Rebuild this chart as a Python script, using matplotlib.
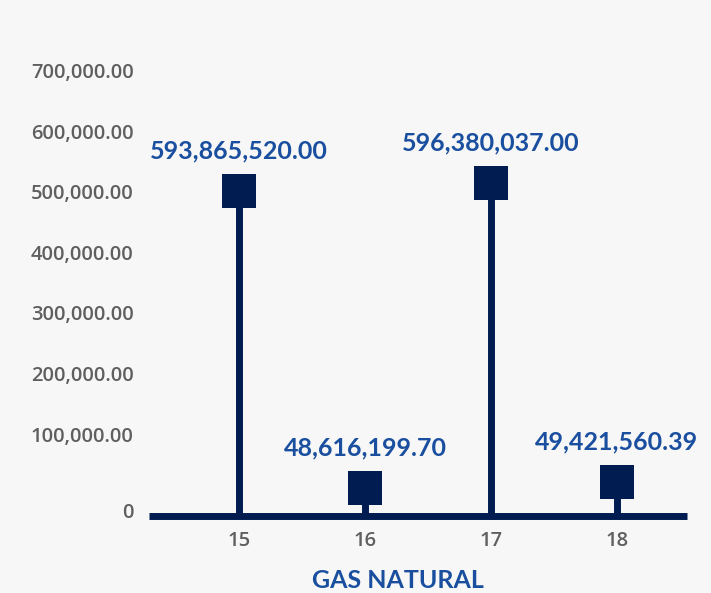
import numpy as np
import matplotlib.pyplot as plt
import matplotlib.transforms as mtransforms

categories = ['15', '16', '17', '18']
# marker heights
values = [501200, 10800, 514000, 20700]
value_labels = ['593,865,520.00', '48,616,199.70', '596,380,037.00', '49,421,560.39']
y_ticks = [0, 100000, 200000, 300000, 400000, 500000, 600000, 700000]
y_tick_labels = ['0', '100,000.00', '200,000.00', '300,000.00', '400,000.00',
                 '500,000.00', '600,000.00', '700,000.00']

navy = '#001c50'
blue = '#1a4f9f'
grey = '#5f5f5f'
bg = '#f7f7f7'

fig = plt.figure(figsize=(7.11, 5.93), dpi=100, facecolor=bg)
ax = fig.add_axes([149/711, 77.3/593, (687-149)/711, (515.7-60)/593])
ax.set_facecolor(bg)

x = np.arange(len(categories))
ymin, ymax = -34830, 717460
ax.vlines(x, ymin, values, color=navy, linewidth=5)
ax.plot(x, values, 's', color=navy, markersize=24.5, markeredgewidth=0, linestyle='none')

for xi, v, lab in zip(x, values, value_labels):
    ax.annotate(lab, (xi, v), xytext=(0, 29), textcoords='offset points',
                ha='center', va='center', color=blue, fontsize=18,
                fontweight='bold', family='Lato')

ax.set_xlim(-0.714, 3.556)
ax.set_ylim(ymin, ymax)
ax.set_xticks(x)
ax.set_xticklabels(categories)
ax.set_yticks(y_ticks)
ax.set_yticklabels(y_tick_labels)
ax.tick_params(length=0, labelsize=14.5, labelcolor=grey)
ax.tick_params(axis='y', pad=11)
ax.tick_params(axis='x', pad=11)
for t in ax.get_xticklabels() + ax.get_yticklabels():
    t.set_family('Open Sans')
    t.set_fontweight('semibold')

# zero label sits a bit lower, next to the axis line
zero = ax.get_yticklabels()[0]
zero.set_transform(zero.get_transform() + mtransforms.ScaledTranslation(0, -15.4/100, fig.dpi_scale_trans))

for s in ['top', 'right', 'left']:
    ax.spines[s].set_visible(False)
ax.spines['bottom'].set_color(navy)
ax.spines['bottom'].set_linewidth(5)
ax.spines['bottom'].set_capstyle('butt')
ax.spines['bottom'].set_zorder(1)

fig.text(398/711, 1 - 580/593, 'GAS NATURAL', ha='center', va='center',
         color=blue, fontsize=18, fontweight='bold', family='Lato')

fig.savefig('out.png', dpi=100, facecolor=bg)
